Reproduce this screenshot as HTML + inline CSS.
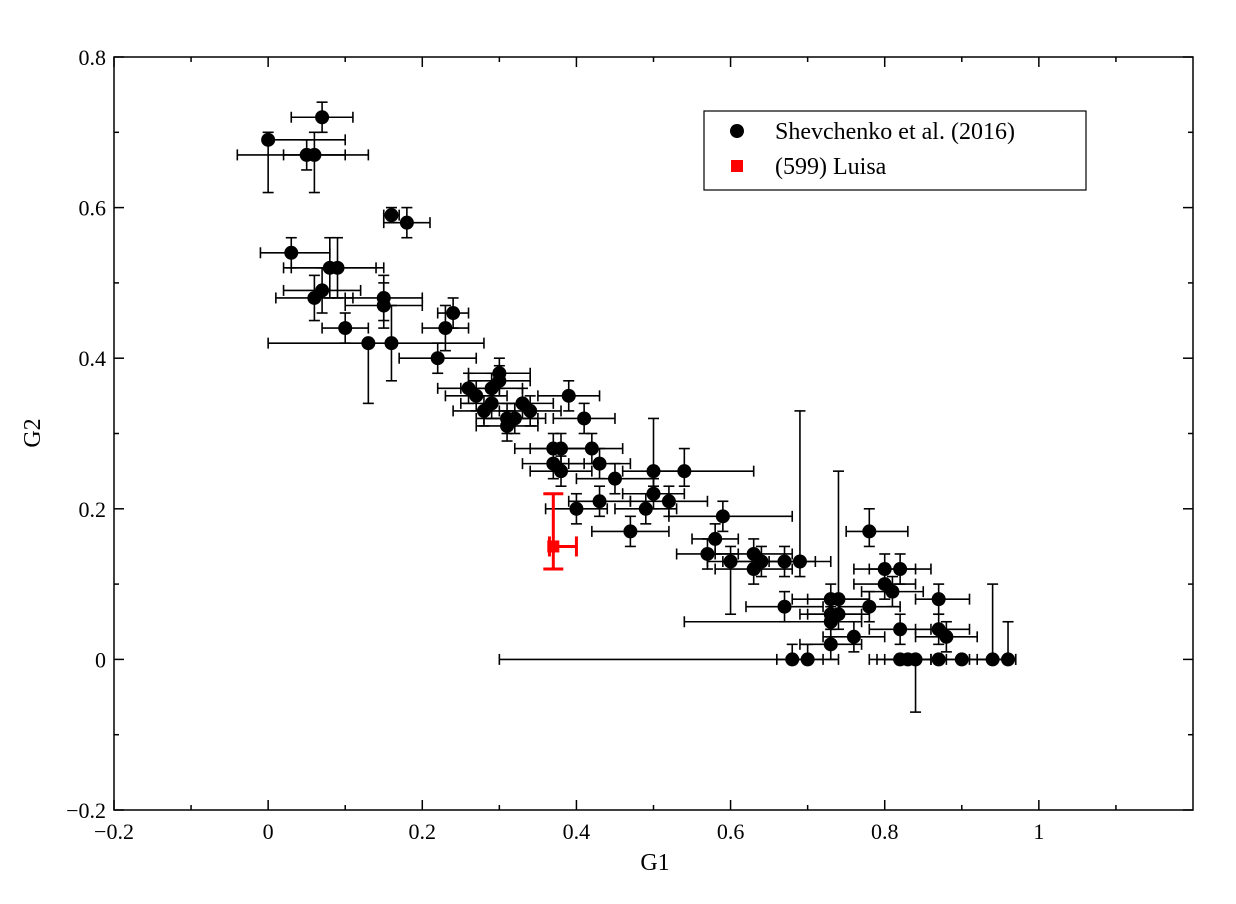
<!DOCTYPE html>
<html><head><meta charset="utf-8">
<style>
body{margin:0;background:#fff;}
svg text{font-family:"Liberation Serif",serif;fill:#000;}
</style></head>
<body>
<svg id="chart" width="1236" height="899" xmlns="http://www.w3.org/2000/svg">
<rect x="0" y="0" width="1236" height="899" fill="#fff"/>
<g id="grid"></g>
<g id="marks"></g>
<rect x="114" y="57" width="1079" height="753" fill="none" stroke="#000" stroke-width="1.5"/>
<text x="655" y="870" font-size="24" text-anchor="middle">G1</text>
<text x="40" y="433" font-size="24" text-anchor="middle" transform="rotate(-90 40 433)">G2</text>
<g>
<rect x="704" y="111" width="382" height="79" fill="#fff" stroke="#000" stroke-width="1.2"/>
<circle cx="737" cy="131" r="7" fill="#000"/>
<text x="775" y="139" font-size="24">Shevchenko et al. (2016)</text>
<rect x="731" y="160" width="12" height="12" fill="#f00"/>
<text x="775" y="174" font-size="24">(599) Luisa</text>
</g>
</svg>
<script>
const xTicks=[-0.2,0,0.2,0.4,0.6,0.8,1];
const xTickLabels=["\u22120.2","0","0.2","0.4","0.6","0.8","1"];
const yTicks=[-0.2,0,0.2,0.4,0.6,0.8];
const yTickLabels=["\u22120.2","0","0.2","0.4","0.6","0.8"];
const g1=[0.07,0.00,0.05,0.06,0.16,0.18,0.03,0.08,0.09,0.07,0.06,0.15,0.15,0.10,0.13,0.16,0.24,0.23,0.22,0.26,0.27,0.28,0.29,0.29,0.30,0.30,0.31,0.31,0.32,0.33,0.34,0.39,0.41,0.37,0.38,0.37,0.38,0.42,0.43,0.43,0.45,0.40,0.47,0.50,0.50,0.49,0.52,0.54,0.59,0.58,0.57,0.60,0.63,0.63,0.64,0.67,0.69,0.67,0.68,0.70,0.73,0.74,0.73,0.74,0.73,0.73,0.76,0.78,0.78,0.80,0.80,0.81,0.82,0.82,0.82,0.83,0.84,0.87,0.87,0.87,0.88,0.90,0.94,0.96];
const g2=[0.72,0.69,0.67,0.67,0.59,0.58,0.54,0.52,0.52,0.49,0.48,0.48,0.47,0.44,0.42,0.42,0.46,0.44,0.40,0.36,0.35,0.33,0.34,0.36,0.37,0.38,0.32,0.31,0.32,0.34,0.33,0.35,0.32,0.28,0.28,0.26,0.25,0.28,0.26,0.21,0.24,0.20,0.17,0.25,0.22,0.20,0.21,0.25,0.19,0.16,0.14,0.13,0.14,0.12,0.13,0.13,0.13,0.07,0.00,0.00,0.08,0.08,0.06,0.06,0.05,0.02,0.03,0.07,0.17,0.12,0.10,0.09,0.12,0.04,0.00,0.00,0.00,0.08,0.04,0.00,0.03,0.00,0.00,0.00];
const g1ErrLo=[0.04,0.00,0.09,0.04,0.01,0.03,0.04,0.06,0.06,0.05,0.05,0.05,0.05,0.03,0.00,0.16,0.02,0.03,0.05,0.04,0.04,0.04,0.04,0.04,0.04,0.04,0.04,0.04,0.04,0.04,0.04,0.04,0.04,0.05,0.04,0.04,0.04,0.04,0.04,0.04,0.05,0.04,0.05,0.04,0.04,0.04,0.05,0.04,0.07,0.03,0.04,0.03,0.05,0.05,0.05,0.04,0.04,0.05,0.38,0.04,0.05,0.04,0.04,0.04,0.19,0.04,0.04,0.04,0.03,0.04,0.04,0.04,0.04,0.04,0.04,0.04,0.04,0.03,0.03,0.04,0.04,0.04,0.04,0.04];
const g1ErrHi=[0.04,0.10,0.08,0.04,0.01,0.03,0.05,0.06,0.06,0.05,0.05,0.05,0.05,0.03,0.00,0.12,0.02,0.03,0.05,0.04,0.04,0.04,0.04,0.04,0.04,0.04,0.04,0.04,0.04,0.04,0.04,0.04,0.04,0.05,0.04,0.04,0.04,0.04,0.04,0.04,0.05,0.04,0.05,0.04,0.04,0.04,0.05,0.09,0.09,0.03,0.04,0.03,0.05,0.05,0.05,0.04,0.04,0.05,0.04,0.04,0.05,0.04,0.04,0.04,0.04,0.04,0.04,0.04,0.05,0.04,0.04,0.04,0.04,0.04,0.04,0.04,0.04,0.04,0.04,0.04,0.04,0.04,0.03,0.01];
const g2ErrLo=[0.02,0.07,0.02,0.05,0.01,0.02,0.02,0.04,0.04,0.03,0.03,0.03,0.03,0.02,0.08,0.05,0.02,0.03,0.02,0.02,0.02,0.02,0.02,0.02,0.02,0.02,0.02,0.02,0.02,0.02,0.02,0.02,0.02,0.02,0.02,0.02,0.02,0.02,0.02,0.02,0.02,0.02,0.02,0.02,0.02,0.02,0.02,0.02,0.02,0.02,0.02,0.07,0.02,0.02,0.02,0.02,0.02,0.02,0.00,0.00,0.02,0.02,0.02,0.02,0.02,0.02,0.02,0.02,0.02,0.02,0.02,0.02,0.02,0.02,0.00,0.00,0.07,0.02,0.02,0.00,0.02,0.00,0.00,0.00];
const g2ErrHi=[0.02,0.01,0.02,0.03,0.01,0.02,0.02,0.04,0.04,0.03,0.03,0.03,0.03,0.02,0.00,0.05,0.02,0.03,0.02,0.02,0.02,0.02,0.02,0.02,0.02,0.02,0.02,0.02,0.02,0.02,0.02,0.02,0.02,0.02,0.02,0.02,0.02,0.02,0.02,0.02,0.02,0.02,0.02,0.07,0.02,0.02,0.02,0.03,0.02,0.02,0.02,0.02,0.02,0.02,0.02,0.02,0.20,0.02,0.02,0.02,0.02,0.17,0.02,0.02,0.02,0.02,0.02,0.02,0.03,0.02,0.02,0.02,0.02,0.02,0.00,0.00,0.00,0.02,0.02,0.00,0.02,0.00,0.10,0.05];
const luisaG1=[0.37];
const luisaG2=[0.15];
const luisaG1ErrLo=[0.005];
const luisaG1ErrHi=[0.03];
const luisaG2ErrLo=[0.03];
const luisaG2ErrHi=[0.07];

const X0=114,X1=1193,Y0=810,Y1=57;
const sx=v=>X0+(v+0.2)/1.4*(X1-X0);
const sy=v=>Y0-(v+0.2)/1.0*(Y0-Y1);
const NS="http://www.w3.org/2000/svg";
const grid=document.getElementById('grid');
const marks=document.getElementById('marks');
function mk(tag,attrs,parent){const e=document.createElementNS(NS,tag);for(const k in attrs)e.setAttribute(k,attrs[k]);parent.appendChild(e);return e;}

// ticks
for(let i=-2;i<=11;i++){
  const v=i/10,x=sx(v),major=(i%2===0&&i<=10);
  const L=major?10:5;
  const t1=mk('line',{x1:x,y1:Y0,x2:x,y2:Y0-L,stroke:'#000','stroke-width':1.5},grid);
  
  
  mk('line',{x1:x,y1:Y1,x2:x,y2:Y1+L,stroke:'#000','stroke-width':1.5},grid);
}
for(let i=-2;i<=8;i++){
  const v=i/10,y=sy(v),major=(i%2===0);
  const L=major?10:5;
  const t=mk('line',{x1:X0,y1:y,x2:X0+L,y2:y,stroke:'#000','stroke-width':1.5},grid);
  
  
  mk('line',{x1:X1,y1:y,x2:X1-L,y2:y,stroke:'#000','stroke-width':1.5},grid);
}
xTicks.forEach((v,i)=>{
  const t=mk('text',{x:sx(v),y:Y0+29,'font-size':22,'text-anchor':'middle'},grid);
  t.textContent=xTickLabels[i];
  
  
});
yTicks.forEach((v,i)=>{
  const t=mk('text',{x:X0-8,y:sy(v)+8,'font-size':22,'text-anchor':'end'},grid);
  t.textContent=yTickLabels[i];
  
  
});

function errbar(parent,x,y,xl,xh,yl,yh,col,w,cap){
  const g=mk('g',{stroke:col,'stroke-width':w,fill:'none'},parent);
  if(xl>0||xh>0){
    mk('line',{x1:sx(x-xl),y1:sy(y),x2:sx(x+xh),y2:sy(y)},g);
    if(xl>0)mk('line',{x1:sx(x-xl),y1:sy(y)-cap,x2:sx(x-xl),y2:sy(y)+cap},g);
    if(xh>0)mk('line',{x1:sx(x+xh),y1:sy(y)-cap,x2:sx(x+xh),y2:sy(y)+cap},g);
  }
  if(yl>0||yh>0){
    mk('line',{x1:sx(x),y1:sy(y-yl),x2:sx(x),y2:sy(y+yh)},g);
    if(yl>0)mk('line',{x1:sx(x)-cap,y1:sy(y-yl),x2:sx(x)+cap,y2:sy(y-yl)},g);
    if(yh>0)mk('line',{x1:sx(x)-cap,y1:sy(y+yh),x2:sx(x)+cap,y2:sy(y+yh)},g);
  }
  return g;
}
for(let i=0;i<g1.length;i++){
  const e=errbar(marks,g1[i],g2[i],g1ErrLo[i],g1ErrHi[i],g2ErrLo[i],g2ErrHi[i],'#000',1.6,5.5);
  
  
}
for(let i=0;i<g1.length;i++){
  const c=mk('circle',{cx:sx(g1[i]),cy:sy(g2[i]),r:7,fill:'#000'},marks);
  
  
}
for(let i=0;i<luisaG1.length;i++){
  const e=errbar(marks,luisaG1[i],luisaG2[i],luisaG1ErrLo[i],luisaG1ErrHi[i],luisaG2ErrLo[i],luisaG2ErrHi[i],'#f00',3,10);
  
  
  const r=mk('rect',{x:sx(luisaG1[i])-6,y:sy(luisaG2[i])-6,width:12,height:12,fill:'#f00'},marks);
  
  
}
</script>
</body></html>
